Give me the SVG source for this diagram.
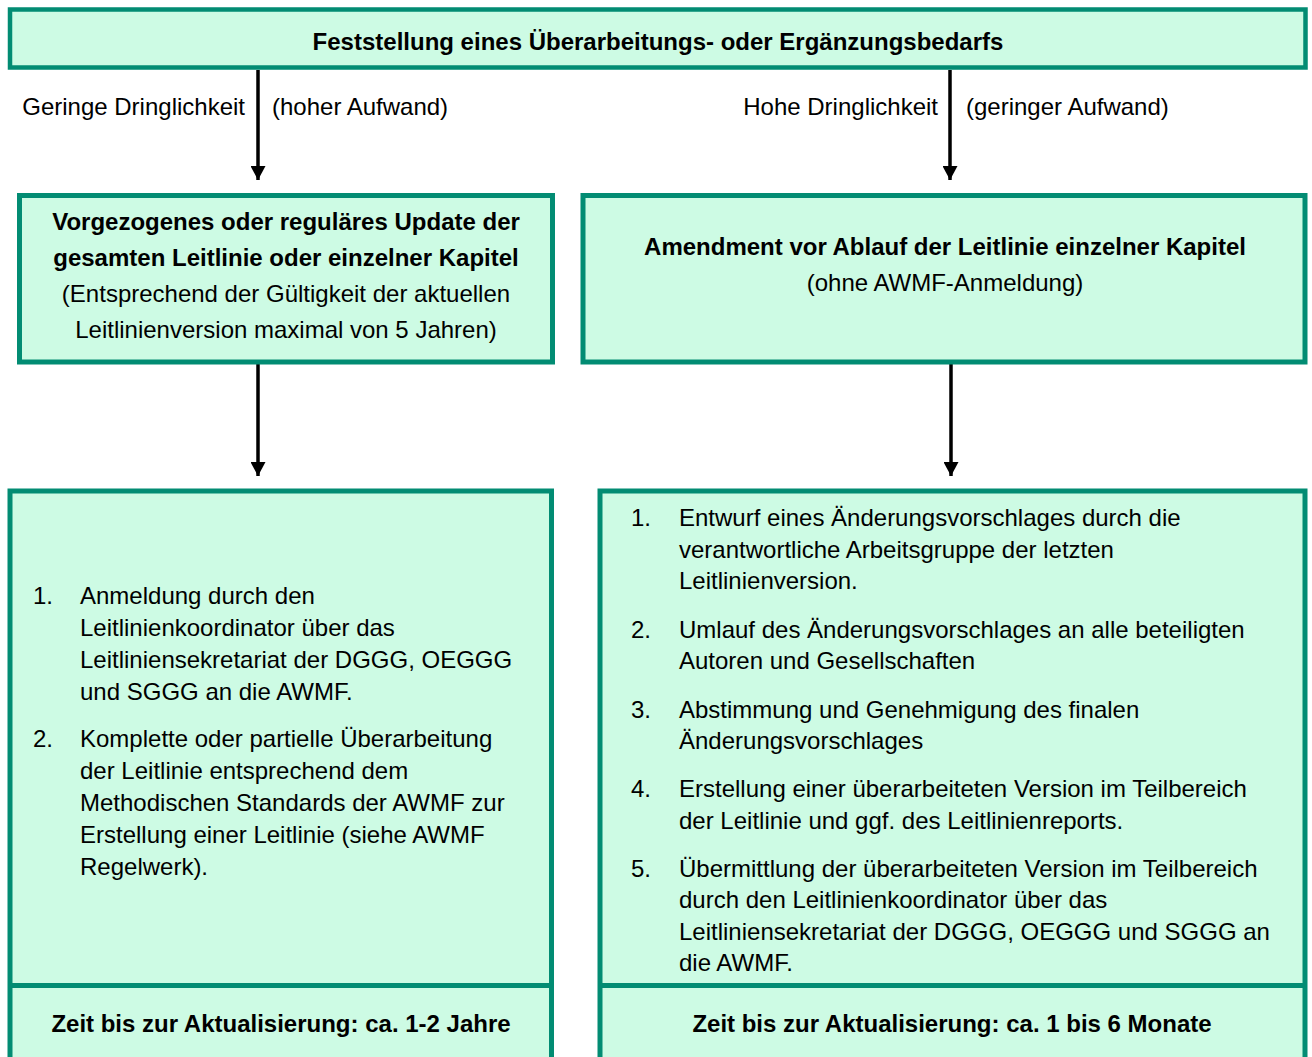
<svg xmlns="http://www.w3.org/2000/svg" width="1312" height="1057" viewBox="0 0 1312 1057">
<defs>
<style>
.box{fill:#CDFBE4;stroke:#028C73;stroke-width:5}
.t{font-family:"Liberation Sans",Arial,sans-serif;font-size:24px;fill:#000}
.b{font-weight:bold}
.c{text-anchor:middle}
.con{stroke:#000;stroke-width:3.5;fill:none}
</style>
<marker id="ah" viewBox="0 0 14 15" refX="14" refY="7.5" markerWidth="14" markerHeight="15" markerUnits="userSpaceOnUse" orient="auto">
<path d="M0,0 L14,7.5 L0,15 z" fill="#000"/>
</marker>
</defs>
<rect width="1312" height="1057" fill="#fff"/>
<g id="connectors">
<line class="con" x1="258" y1="70" x2="258" y2="180" marker-end="url(#ah)"/>
<line class="con" x1="950" y1="70" x2="950" y2="180" marker-end="url(#ah)"/>
<line class="con" x1="258" y1="364" x2="258" y2="476" marker-end="url(#ah)"/>
<line class="con" x1="951" y1="364" x2="951" y2="476" marker-end="url(#ah)"/>
<text class="t" x="245" y="115" text-anchor="end">Geringe Dringlichkeit</text>
<text class="t" x="272" y="115">(hoher Aufwand)</text>
<text class="t" x="938" y="115" text-anchor="end">Hohe Dringlichkeit</text>
<text class="t" x="966" y="115">(geringer Aufwand)</text>
</g>
<g id="n-top">
<rect class="box" x="10" y="9.5" width="1295.5" height="58" style="stroke-width:4.5"/>
<text class="t b c" x="658" y="50">Feststellung eines Überarbeitungs- oder Ergänzungsbedarfs</text>
</g>
<g id="n-update">
<rect class="box" x="19.5" y="195.5" width="533" height="166.5"/>
<text class="t b c" x="286" y="230">Vorgezogenes oder reguläres Update der</text>
<text class="t b c" x="286" y="266">gesamten Leitlinie oder einzelner Kapitel</text>
<text class="t c" x="286" y="302">(Entsprechend der Gültigkeit der aktuellen</text>
<text class="t c" x="286" y="338">Leitlinienversion maximal von 5 Jahren)</text>
</g>
<g id="n-amendment">
<rect class="box" x="583" y="195.5" width="722" height="166.5"/>
<text class="t b c" x="945" y="255">Amendment vor Ablauf der Leitlinie einzelner Kapitel</text>
<text class="t c" x="945" y="291">(ohne AWMF-Anmeldung)</text>
</g>
<g id="n-steps-left">
<rect class="box" x="10" y="491" width="541.5" height="600"/>
<line x1="10" y1="985.5" x2="551.5" y2="985.5" stroke="#028C73" stroke-width="5"/>
<text class="t" x="33" y="604">1.</text>
<text class="t" x="80" y="604">Anmeldung durch den</text>
<text class="t" x="80" y="636">Leitlinienkoordinator über das</text>
<text class="t" x="80" y="668">Leitliniensekretariat der DGGG, OEGGG</text>
<text class="t" x="80" y="700">und SGGG an die AWMF.</text>
<text class="t" x="33" y="747">2.</text>
<text class="t" x="80" y="747">Komplette oder partielle Überarbeitung</text>
<text class="t" x="80" y="779">der Leitlinie entsprechend dem</text>
<text class="t" x="80" y="811">Methodischen Standards der AWMF zur</text>
<text class="t" x="80" y="843">Erstellung einer Leitlinie (siehe AWMF</text>
<text class="t" x="80" y="875">Regelwerk).</text>
<text class="t b c" x="281" y="1032">Zeit bis zur Aktualisierung: ca. 1-2 Jahre</text>
</g>
<g id="n-steps-right">
<rect class="box" x="600" y="491" width="705" height="600"/>
<line x1="600" y1="985.5" x2="1305" y2="985.5" stroke="#028C73" stroke-width="5"/>
<text class="t" x="631" y="526">1.</text>
<text class="t" x="679" y="526">Entwurf eines Änderungsvorschlages durch die</text>
<text class="t" x="679" y="557.5">verantwortliche Arbeitsgruppe der letzten</text>
<text class="t" x="679" y="589">Leitlinienversion.</text>
<text class="t" x="631" y="637.5">2.</text>
<text class="t" x="679" y="637.5">Umlauf des Änderungsvorschlages an alle beteiligten</text>
<text class="t" x="679" y="669">Autoren und Gesellschaften</text>
<text class="t" x="631" y="717.5">3.</text>
<text class="t" x="679" y="717.5">Abstimmung und Genehmigung des finalen</text>
<text class="t" x="679" y="749">Änderungsvorschlages</text>
<text class="t" x="631" y="797">4.</text>
<text class="t" x="679" y="797">Erstellung einer überarbeiteten Version im Teilbereich</text>
<text class="t" x="679" y="828.5">der Leitlinie und ggf. des Leitlinienreports.</text>
<text class="t" x="631" y="876.5">5.</text>
<text class="t" x="679" y="876.5">Übermittlung der überarbeiteten Version im Teilbereich</text>
<text class="t" x="679" y="908">durch den Leitlinienkoordinator über das</text>
<text class="t" x="679" y="939.5">Leitliniensekretariat der DGGG, OEGGG und SGGG an</text>
<text class="t" x="679" y="971">die AWMF.</text>
<text class="t b c" x="952" y="1032">Zeit bis zur Aktualisierung: ca. 1 bis 6 Monate</text>
</g>
</svg>
